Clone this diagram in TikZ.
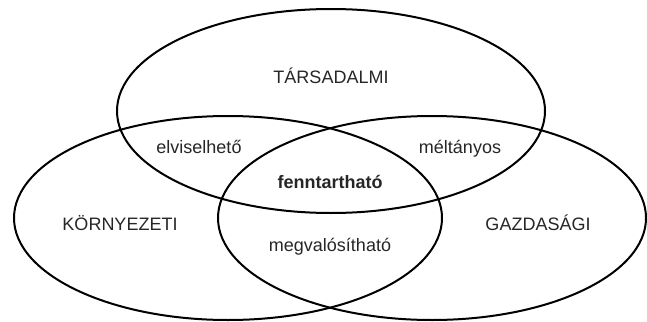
\documentclass[tikz,border=0pt]{standalone}
\usepackage{fontspec}
\setmainfont{Liberation Sans}
\usepackage{tikz}
\usetikzlibrary{shapes.geometric}

\tikzset{
  halmaz/.style={draw,ellipse,line width=2pt,minimum width=428pt,minimum height=204pt,inner sep=0pt},
  felirat/.style={anchor=base,inner sep=0pt,font=\fontsize{18}{21}\selectfont,text=black!85}
}

\begin{document}
\begin{tikzpicture}[x=1pt,y=-1pt]
  \useasboundingbox (0,0) rectangle (647,321);
  % the three sets
  \node[halmaz] (tars) at (331,111) {};
  \node[halmaz] (korny) at (228,218) {};
  \node[halmaz] (gazd) at (432,218) {};
  % labels
  \node[felirat] (ltars) at (331,83) {TÁRSADALMI};
  \node[felirat] (lkorny) at (120,230) {KÖRNYEZETI};
  \node[felirat] (lgazd) at (538,230) {GAZDASÁGI};
  \node[felirat] (lelvis) at (199,153) {elviselhető};
  \node[felirat] (lmelt) at (460,153) {méltányos};
  \node[felirat,font=\fontsize{18}{21}\selectfont\bfseries] (lfennt) at (330,188) {fenntartható};
  \node[felirat] (lmegv) at (330,251) {megvalósítható};
\end{tikzpicture}
\end{document}
